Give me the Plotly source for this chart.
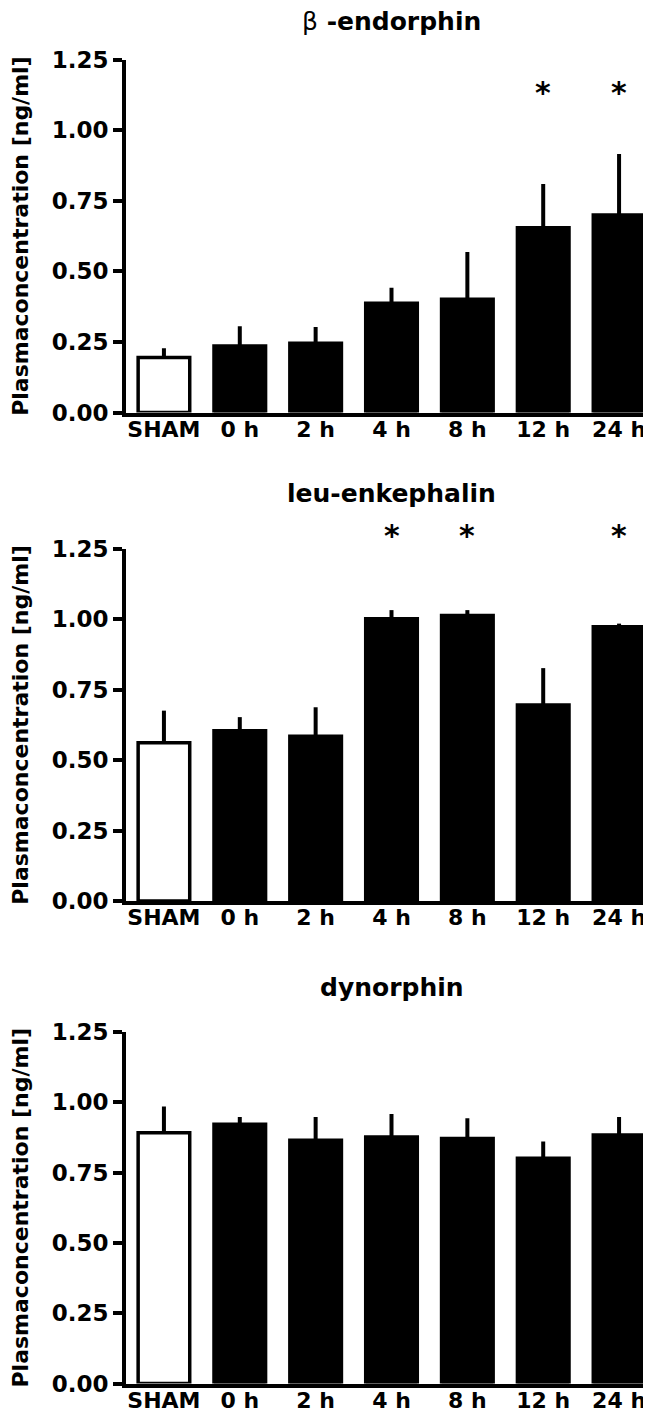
import plotly.graph_objects as go

# groups on the x axis
categories = ["SHAM", "0 h", "2 h", "4 h", "8 h", "12 h", "24 h"]

# panel titles
titles = ["<span style='font-weight:normal'>\u03b2</span> -endorphin", "leu-enkephalin", "dynorphin"]

# mean plasma concentration [ng/ml] and upper error (SEM)
beta_mean = [0.195, 0.236, 0.245, 0.387, 0.401, 0.655, 0.700]
beta_sem = [0.033, 0.070, 0.058, 0.055, 0.168, 0.155, 0.216]
beta_sig = [False, False, False, False, False, True, True]

leu_mean = [0.562, 0.605, 0.585, 1.002, 1.014, 0.696, 0.974]
leu_sem = [0.114, 0.048, 0.103, 0.031, 0.019, 0.131, 0.011]
leu_sig = [False, False, False, True, True, False, True]

dyn_mean = [0.892, 0.922, 0.865, 0.877, 0.871, 0.801, 0.884]
dyn_sem = [0.093, 0.026, 0.083, 0.081, 0.072, 0.060, 0.064]
dyn_sig = [False] * 7

panels = [
    (beta_mean, beta_sem, beta_sig),
    (leu_mean, leu_sem, leu_sig),
    (dyn_mean, dyn_sem, dyn_sig),
]

W, H = 651, 1416
YMAX = 1.25
# pixel rows of (top, bottom) of each plot area, title centre, star height
px_rows = [(51.7, 404.5), (541.0, 893.0), (1024.0, 1375.5)]
title_px = [13, 486, 979]
star_levels = [1.12, 1.283, None]

FONT = "DejaVu Sans, Verdana, sans-serif"
bold = dict(family=FONT, color="black", weight="bold")

fig = go.Figure()
annotations = []

for i, (mean, sem, sig) in enumerate(panels):
    n = "" if i == 0 else str(i + 1)
    fills = ["white"] + ["black"] * (len(categories) - 1)
    fig.add_trace(
        go.Bar(
            x=categories,
            y=mean,
            xaxis="x" + n,
            yaxis="y" + n,
            marker=dict(color=fills, line=dict(color="black", width=3.5)),
            error_y=dict(
                type="data",
                symmetric=False,
                array=sem,
                arrayminus=[0] * len(sem),
                color="black",
                thickness=4,
                width=0,
            ),
            showlegend=False,
        )
    )

    top, bottom = px_rows[i]
    dom = [1 - bottom / H, 1 - top / H]
    fig.layout["xaxis" + n] = dict(
        domain=[0, 1],
        anchor="y" + n,
        type="category",
        range=[-0.5, len(categories) - 0.5],
        showline=True,
        linecolor="black",
        linewidth=4,
        ticks="",
        showgrid=False,
        zeroline=False,
        tickfont=dict(size=22, **bold),
        ticklabelstandoff=-6,
        automargin=False,
    )
    fig.layout["yaxis" + n] = dict(
        domain=dom,
        anchor="x" + n,
        range=[0, YMAX],
        dtick=0.25,
        tickformat=".2f",
        showline=True,
        linecolor="black",
        linewidth=4,
        ticks="outside",
        ticklen=9,
        tickwidth=4,
        tickcolor="black",
        showgrid=False,
        zeroline=False,
        tickfont=dict(size=23, **bold),
        title=dict(text="Plasmaconcentration [ng/ml]", font=dict(size=22, **bold), standoff=22),
        automargin=False,
    )

    annotations.append(
        dict(
            text=titles[i],
            x=0.5,
            xref="x" + n + " domain",
            y=1 - title_px[i] / H,
            yref="paper",
            showarrow=False,
            yanchor="middle",
            font=dict(size=25, **bold),
        )
    )

    # significance stars
    if star_levels[i] is not None:
        star_y = dom[0] + (dom[1] - dom[0]) * star_levels[i] / YMAX
        for cat, flag in zip(categories, sig):
            if flag:
                annotations.append(
                    dict(
                        text="*",
                        x=cat,
                        xref="x" + n,
                        y=star_y,
                        yref="paper",
                        showarrow=False,
                        yanchor="middle",
                        yshift=4,
                        font=dict(size=30, **bold),
                    )
                )

fig.update_layout(
    width=W,
    height=H,
    margin=dict(l=118, r=2, t=0, b=0),
    paper_bgcolor="white",
    plot_bgcolor="white",
    bargap=0.32,
    annotations=annotations,
)

fig.write_html("out.html")
